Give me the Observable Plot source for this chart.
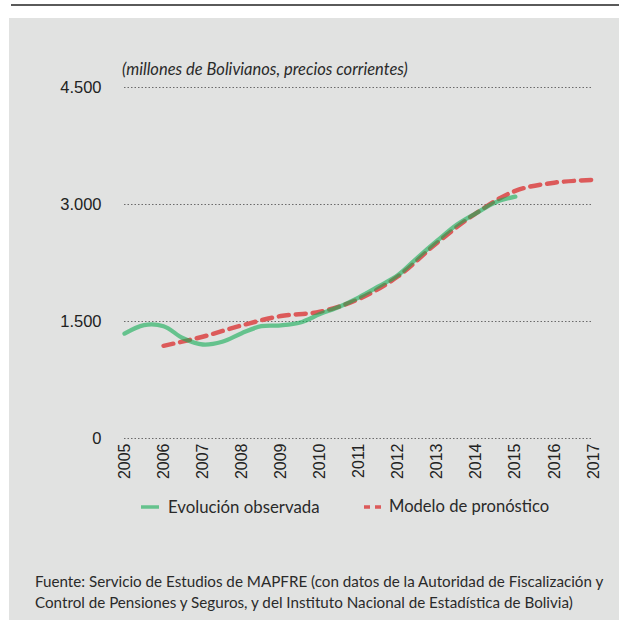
<!DOCTYPE html>
<html>
<head>
<meta charset="utf-8">
<script src="https://cdn.jsdelivr.net/npm/d3@7"></script>
<script src="https://cdn.jsdelivr.net/npm/@observablehq/plot@0.6"></script>
<style>
  body { margin: 0; background: #fff; }
  #wrap { position: relative; width: 619px; height: 622px; overflow: hidden; font-family: Lato, "Open Sans", sans-serif; color: #2a2a2a; }
  .abs { position: absolute; }
</style>
</head>
<body>
<div id="wrap">
  <div class="abs" style="left:11px;top:4px;width:608px;height:2px;background:#5a5a5a"></div>
  <div class="abs" style="left:9px;top:18px;width:610px;height:602px;background:#e1e2e1"></div>
  <div id="chart" class="abs" style="left:0;top:0"></div>
  <div id="subtitle" class="abs" style="left:122px;top:59px;font-size:16.5px;font-style:italic;line-height:20px;white-space:nowrap"></div>
  <div id="legend" class="abs" style="left:0;top:0"></div>
  <div id="caption" class="abs" style="left:35px;top:570.5px;font-size:15.2px;line-height:21.5px;white-space:nowrap"></div>
</div>
<script>
// ---- data ----
const subtitleText = "(millones de Bolivianos, precios corrientes)";
const seriesNames = ["Evolución observada", "Modelo de pronóstico"];
const captionLines = [
  "Fuente: Servicio de Estudios de MAPFRE (con datos de la Autoridad de Fiscalización y",
  "Control de Pensiones y Seguros, y del Instituto Nacional de Estadística de Bolivia)"
];
const xTicks = [2005, 2006, 2007, 2008, 2009, 2010, 2011, 2012, 2013, 2014, 2015, 2016, 2017];
const yTicks = [0, 1500, 3000, 4500];

const observedT = [2005, 2005.5, 2006, 2006.5, 2007, 2007.5, 2008, 2008.5, 2009, 2009.5, 2010, 2010.5, 2011, 2011.5, 2012, 2012.5, 2013, 2013.5, 2014, 2014.5, 2015];
const observedV = [1345, 1455, 1440, 1285, 1205, 1240, 1350, 1440, 1450, 1487, 1595, 1690, 1810, 1950, 2095, 2320, 2535, 2740, 2890, 3030, 3100];

const modelT = [2006, 2007, 2008, 2009, 2010, 2011, 2012, 2013, 2014, 2015, 2016, 2017];
const modelV = [1188, 1305, 1450, 1570, 1625, 1790, 2080, 2510, 2890, 3175, 3280, 3316];

const colors = ["#12ad55", "#dc5a5a"];

// ---- build ----
const observed = observedT.map((t, i) => ({t, v: observedV[i]}));
const model = modelT.map((t, i) => ({t, v: modelV[i]}));
const fmt = d => d === 0 ? "0" : d3.format(",")(d).replace(/,/g, ".");

const chart = Plot.plot({
  width: 619,
  height: 490,
  marginLeft: 124,
  marginRight: 26,
  marginTop: 87,
  marginBottom: 52,
  style: {background: "transparent", fontFamily: "'Liberation Sans', Arial, sans-serif", color: "#222", overflow: "visible"},
  x: {domain: [2005, 2017]},
  y: {domain: [0, 4500]},
  marks: [
    Plot.ruleY(yTicks, {stroke: "#6a6a6a", strokeWidth: 1, strokeDasharray: "1.5,2"}),
    Plot.axisY({ticks: yTicks, tickSize: 0, tickPadding: 23, tickFormat: fmt, fontSize: 16.5, label: null}),
    Plot.axisX({ticks: xTicks, tickSize: 0, tickPadding: 5, tickRotate: -90, tickFormat: d => String(d), fontSize: 16, label: null}),
    Plot.line(model, {x: "t", y: "v", stroke: colors[1], strokeWidth: 4.5, strokeDasharray: "10,7", curve: "catmull-rom"}),
    Plot.line(observed, {x: "t", y: "v", stroke: colors[0], strokeOpacity: 0.6, strokeWidth: 4.3, curve: "catmull-rom"})
  ]
});
document.getElementById("chart").appendChild(chart);

document.getElementById("subtitle").textContent = subtitleText;
document.getElementById("caption").innerHTML = captionLines.map(l => `<div>${l}</div>`).join("");

const legend = document.getElementById("legend");
legend.innerHTML = `
  <svg class="abs" style="left:0;top:0" width="619" height="622">
    <line x1="141" x2="159" y1="507" y2="507" stroke="${colors[0]}" stroke-opacity="0.6" stroke-width="3.5"/>
    <line x1="364" x2="382" y1="507" y2="507" stroke="${colors[1]}" stroke-width="3.5" stroke-dasharray="6,5"/>
  </svg>
  <div class="abs" style="left:168px;top:496px;font-size:16.8px;line-height:21px;white-space:nowrap">${seriesNames[0]}</div>
  <div class="abs" style="left:389px;top:496px;font-size:16.6px;line-height:21px;white-space:nowrap">${seriesNames[1]}</div>`;
</script>
</body>
</html>
